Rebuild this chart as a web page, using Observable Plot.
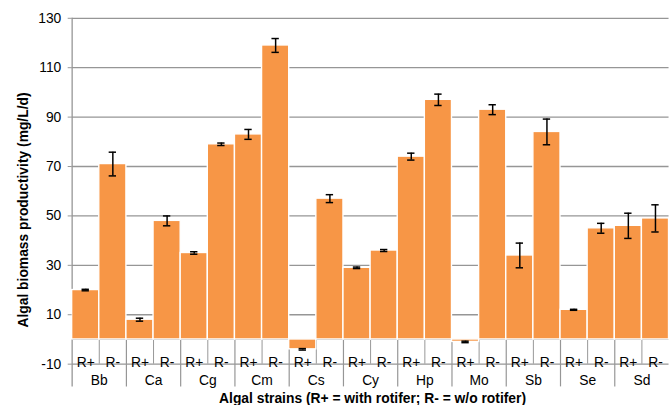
<!DOCTYPE html>
<html>
<head>
<meta charset="utf-8">
<script src="https://cdn.jsdelivr.net/npm/d3@7"></script>
<script src="https://cdn.jsdelivr.net/npm/@observablehq/plot@0.6"></script>
<style>
  html, body { margin: 0; padding: 0; background: #fff; overflow: hidden; }
  #chart { width: 672px; height: 410px; overflow: hidden; }
</style>
</head>
<body>
<div id="chart"></div>
<script>
// ---- data ----
const strains = ["Bb", "Ca", "Cg", "Cm", "Cs", "Cy", "Hp", "Mo", "Sb", "Se", "Sd"];
const treatments = ["R+", "R-"];
const withRotifer    = [20, 8, 35, 83, -4, 29, 74, -1, 34, 12, 46];
const withoutRotifer = [71, 48, 79, 119, 57, 36, 97, 93, 84, 45, 49];
const errWith    = [0.3, 0.6, 0.5, 2.0, 0.3, 0.3, 1.4, 0.3, 5.0, 0.2, 5.1];
const errWithout = [4.8, 2.0, 0.5, 2.8, 1.6, 0.4, 2.3, 2.0, 5.2, 2.0, 5.5];
const yTicks = [-10, 10, 30, 50, 70, 90, 110, 130];
const yTitle = "Algal biomass productivity (mg/L/d)";
const xTitle = "Algal strains (R+ = with rotifer; R- = w/o rotifer)";

// ---- table built from the arrays ----
const rows = strains.flatMap((s, k) => treatments.map((t, j) => ({
  strain: s,
  trt: t,
  idx: 2 * k + j,
  value: j === 0 ? withRotifer[k] : withoutRotifer[k],
  err: j === 0 ? errWith[k] : errWithout[k]
})));

const yMin = yTicks[0], yMax = yTicks[yTicks.length - 1];
const nBars = rows.length;
const gray = "#969696";
const orange = "#F79646";
const font = "'Liberation Sans', Arial, Helvetica, sans-serif";

const chart = Plot.plot({
  width: 680,
  height: 410,
  marginLeft: 72.5,
  marginRight: 3.5,
  marginTop: 18,
  marginBottom: 42,
  style: { fontFamily: font, fontSize: "14px", color: "#000", background: "#fff" },
  x: { domain: [0, nBars], label: null },
  y: { domain: [yMin, yMax], label: null },
  marks: [
    Plot.gridY(yTicks, { stroke: gray, strokeOpacity: 1, strokeWidth: 1.3 }),
    Plot.ruleY([0], { stroke: gray, strokeWidth: 1 }),
    // separators in the treatment row
    Plot.ruleX(rows.filter(d => d.trt === "R-"), { x: "idx", y1: 0, y2: yMin, stroke: gray, strokeWidth: 1 }),
    // separators between strains (run into the strain row)
    Plot.ruleX(rows.filter(d => d.trt === "R+" && d.idx > 0), { x: "idx", y1: 0, y2: yMin, insetBottom: -23, stroke: gray, strokeWidth: 1.2 }),
    // y axis line
    Plot.ruleX([0], { y1: yMax, y2: yMin, insetBottom: -23, stroke: gray, strokeWidth: 1.3 }),
    // bars
    Plot.rectY(rows, { x1: "idx", x2: d => d.idx + 1, y: "value", fill: orange, stroke: "#fff", strokeWidth: 1.4 }),
    // error bars
    Plot.ruleX(rows, { x: d => d.idx + 0.5, y1: d => d.value + d.err, y2: d => d.value - d.err, stroke: "#000", strokeWidth: 1.5 }),
    Plot.ruleY(rows, { y: d => d.value + d.err, x1: "idx", x2: d => d.idx + 1, insetLeft: 10, insetRight: 10, stroke: "#000", strokeWidth: 1.5 }),
    Plot.ruleY(rows, { y: d => d.value - d.err, x1: "idx", x2: d => d.idx + 1, insetLeft: 10, insetRight: 10, stroke: "#000", strokeWidth: 1.5 }),
    // axes
    Plot.axisY({ ticks: yTicks, tickFormat: d => String(d), tickSize: 4, tickPadding: 7, stroke: gray, fill: "#000", fontSize: 14, label: null }),
    Plot.axisX({ ticks: rows.map(d => d.idx + 0.5), tickFormat: v => treatments[Math.floor(v) % 2], tickSize: 0, tickPadding: 0, dy: -7, fontSize: 14, label: null }),
    Plot.axisX({ ticks: strains.map((s, k) => 2 * k + 1), tickFormat: v => strains[Math.round((v - 1) / 2)], tickSize: 0, tickPadding: 11, fontSize: 14, label: null }),
    // titles
    Plot.text([xTitle], { frameAnchor: "bottom", lineAnchor: "middle", textAnchor: "middle", dy: 35, dx: 2, fontSize: 14, fontWeight: "bold", fill: "#000" }),
    Plot.text([yTitle], { frameAnchor: "left", textAnchor: "middle", lineAnchor: "middle", rotate: -90, dx: -49.5, dy: 19, fontSize: 14, fontWeight: "bold", fill: "#000" })
  ]
});
document.getElementById("chart").appendChild(chart);
</script>
</body>
</html>
